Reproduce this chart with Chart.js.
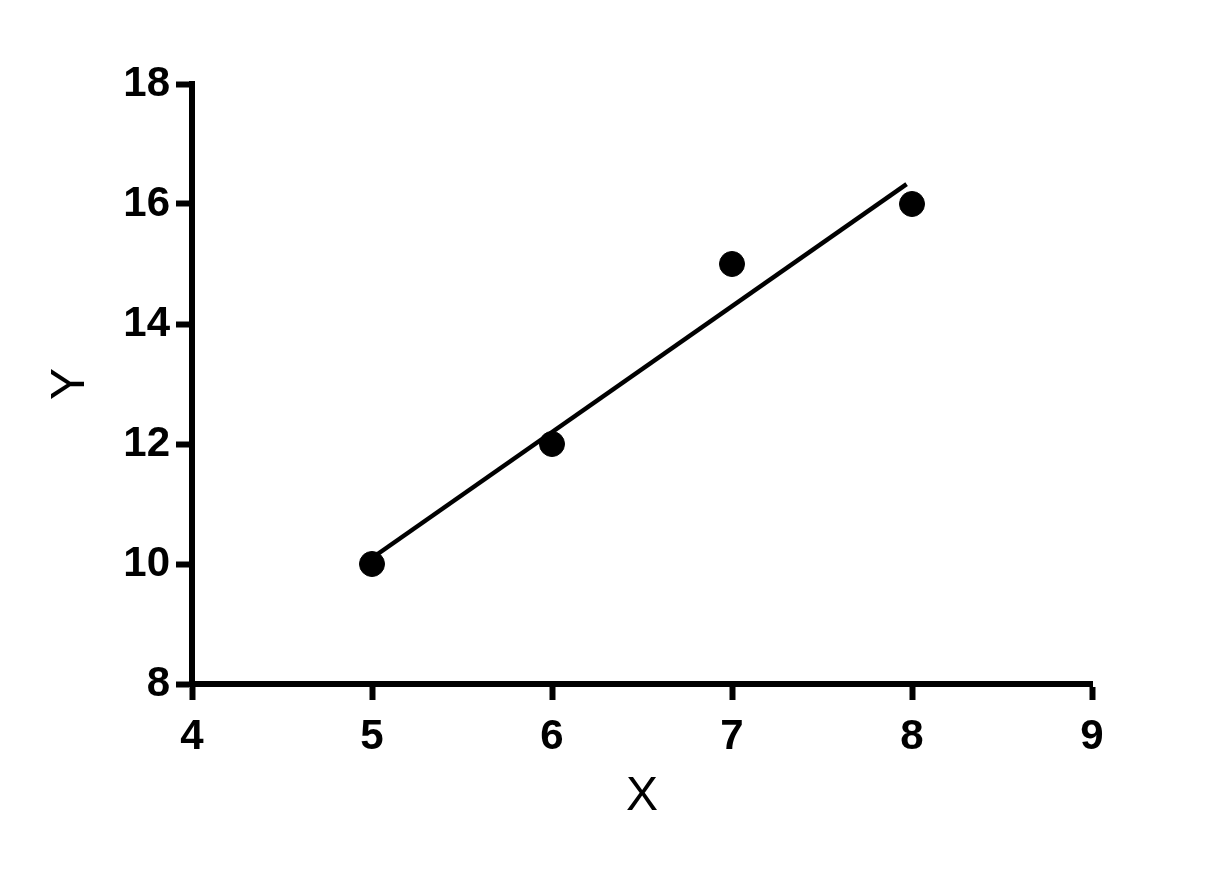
<!DOCTYPE html>
<html>
<head>
<meta charset="utf-8">
<title>X vs Y</title>
<script src="https://cdn.jsdelivr.net/npm/chart.js@4"></script>
<style>
  html, body { margin: 0; padding: 0; background: #fff; }
  #wrap { width: 1230px; height: 870px; }
</style>
</head>
<body>
<div id="wrap"><canvas id="chart" width="1230" height="870"></canvas></div>
<script>
// data
const xValues = [5, 6, 7, 8];
const yValues = [10, 12, 15, 16];
// fitted line end points
const fitX = [5, 7.97];
const fitY = [10.1, 16.33];
// axis ranges
const xRange = [4, 9];
const yRange = [8, 18];
const xStep = 1;
const yStep = 2;

const FONT = 'Arial, "Liberation Sans", sans-serif';

document.addEventListener('DOMContentLoaded', () => {
  const ctx = document.getElementById('chart').getContext('2d');

  const axisCommon = {
    border: { display: true, color: '#000', width: 6 },
    grid: {
      display: true,
      drawOnChartArea: false,
      drawTicks: true,
      tickLength: 16,
      tickWidth: 6,
      tickColor: '#000'
    },
    ticks: { color: '#000', font: { family: FONT, size: 42, weight: 'bold' } }
  };

  new Chart(ctx, {
    type: 'scatter',
    data: {
      datasets: [
        {
          label: 'Data',
          data: xValues.map((x, i) => ({ x, y: yValues[i] })),
          backgroundColor: '#000',
          borderColor: '#000',
          pointRadius: 12.5,
          pointHoverRadius: 12.5,
          order: 1
        },
        {
          type: 'line',
          label: 'Fit',
          data: fitX.map((x, i) => ({ x, y: fitY[i] })),
          borderColor: '#000',
          borderWidth: 4.5,
          pointRadius: 0,
          fill: false,
          order: 2
        }
      ]
    },
    options: {
      responsive: false,
      animation: false,
      layout: { padding: { left: 0, top: 84, right: 138, bottom: 0 } },
      plugins: { legend: { display: false }, tooltip: { enabled: false } },
      scales: {
        x: {
          ...axisCommon,
          type: 'linear',
          min: xRange[0],
          max: xRange[1],
          ticks: { ...axisCommon.ticks, stepSize: xStep, padding: 12, maxRotation: 0 },
          title: {
            display: true,
            text: 'X',
            color: '#000',
            font: { family: FONT, size: 48, weight: 'normal' },
            padding: { top: 0, bottom: 44 }
          },
          afterFit: s => { s.height = 186; }
        },
        y: {
          ...axisCommon,
          type: 'linear',
          min: yRange[0],
          max: yRange[1],
          ticks: { ...axisCommon.ticks, stepSize: yStep, padding: 6 },
          title: {
            display: true,
            text: 'Y',
            color: '#000',
            font: { family: FONT, size: 48, weight: 'normal' },
            padding: { top: 42, bottom: 0 }
          },
          afterFit: s => { s.width = 192; }
        }
      }
    }
  });
});
</script>
</body>
</html>
